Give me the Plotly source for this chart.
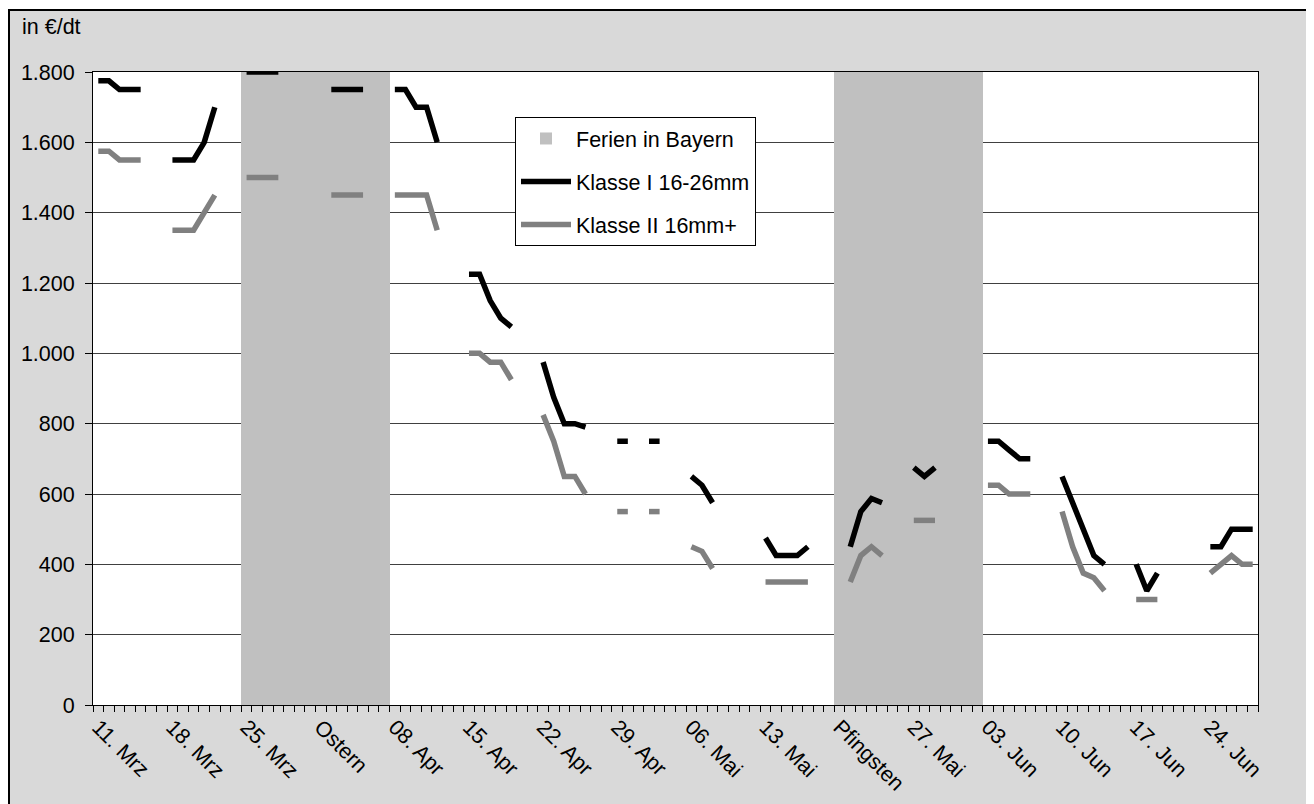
import pandas as pd
import plotly.graph_objects as go

# ---- data -------------------------------------------------------------
start_date = "2013-03-11"
n_days = 110

# Monday-to-Friday prices per week (None = no quotation)
klasse1_weeks = [
    [1775, 1775, 1750, 1750, 1750],
    [1550, 1550, 1550, 1600, 1700],
    [1800, 1800, 1800, 1800, None],
    [None, 1750, 1750, 1750, 1750],
    [1750, 1750, 1700, 1700, 1600],
    [1225, 1225, 1150, 1100, 1075],
    [975, 875, 800, 800, 790],
    [750, 750, None, 750, 750],
    [650, 625, 575, None, None],
    [475, 425, 425, 425, 450],
    [None, 450, 550, 587, 575],
    [675, 650, 675, None, None],
    [750, 750, 725, 700, 700],
    [650, 575, 490, 425, 400],
    [400, 325, 375, None, None],
    [450, 450, 500, 500, 500],
]
klasse2_weeks = [
    [1575, 1575, 1550, 1550, 1550],
    [1350, 1350, 1350, 1400, 1450],
    [1500, 1500, 1500, 1500, None],
    [None, 1450, 1450, 1450, 1450],
    [1450, 1450, 1450, 1450, 1350],
    [1000, 1000, 975, 975, 925],
    [825, 750, 650, 650, 600],
    [550, 550, None, 550, 550],
    [450, 437, 388, None, None],
    [350, 350, 350, 350, 350],
    [None, 350, 425, 450, 425],
    [525, 525, 525, None, None],
    [625, 625, 600, 600, 600],
    [550, 450, 375, 362, 325],
    [300, 300, 300, None, None],
    [375, 400, 425, 400, 400],
]
ferien_ranges = [("2013-03-25", "2013-04-07"), ("2013-05-20", "2013-06-02")]
ferien_height = 1800

tick_labels = ["11. Mrz", "18. Mrz", "25. Mrz", "Ostern", "08. Apr", "15. Apr",
               "22. Apr", "29. Apr", "06. Mai", "13. Mai", "Pfingsten", "27. Mai",
               "03. Jun", "10. Jun", "17. Jun", "24. Jun"]

# ---- build daily series -----------------------------------------------
dates = pd.date_range(start_date, periods=n_days, freq="D")
idx = list(range(n_days))


def daily(weeks):
    out = []
    for i in range(n_days):
        w, d = divmod(i, 7)
        out.append(weeks[w][d] if d < 5 and w < len(weeks) else None)
    return out


k1 = daily(klasse1_weeks)
k2 = daily(klasse2_weeks)
ferien = []
for dt in dates:
    inside = any(pd.Timestamp(a) <= dt <= pd.Timestamp(b) for a, b in ferien_ranges)
    ferien.append(ferien_height if inside else None)

tick_pos = list(range(0, n_days, 7))[:len(tick_labels)]

# ---- figure -----------------------------------------------------------
FONT = "Liberation Sans, Arial, sans-serif"
FS = 21.5
fig = go.Figure()
fig.add_trace(go.Bar(x=idx, y=ferien, width=1, name="Ferien in Bayern",
                     marker=dict(color="#C0C0C0", line=dict(width=0)),
                     legendgroup="a"))
fig.add_trace(go.Scatter(x=idx, y=k1, mode="lines", name="Klasse I 16-26mm",
                         line=dict(color="#000000", width=5.5),
                         connectgaps=False, legendgroup="b"))
fig.add_trace(go.Scatter(x=idx, y=k2, mode="lines", name="Klasse II 16mm+",
                         line=dict(color="#808080", width=5.5),
                         connectgaps=False, legendgroup="c"))

# page offset of the figure (browser body margin)
OFF = 8
L, R, T, B = 85, 56, 64, 99
W, H = 1306, 796
pw, ph = W - L - R, H - T - B


def px(x):  # page x -> paper x
    return (x - OFF - L) / pw


def py(y):  # page y -> paper y
    return (H + OFF - B - y) / ph


fig.update_layout(
    width=W, height=H,
    margin=dict(l=L, r=R, t=T, b=B, autoexpand=False),
    paper_bgcolor="#D9D9D9", plot_bgcolor="#FFFFFF",
    separators=",.",
    font=dict(family=FONT, size=FS, color="#000000"),
    bargap=0,
    showlegend=True,
    legend=dict(x=px(515), y=py(117), xanchor="left", yanchor="top",
                bgcolor="#FFFFFF", bordercolor="#000000", borderwidth=1,
                font=dict(family=FONT, size=FS, color="#000000"),
                traceorder="grouped", tracegroupgap=12, itemwidth=50),
    xaxis=dict(range=[-0.5, n_days - 0.5], tickmode="array", tickvals=tick_pos,
               ticktext=tick_labels, tickangle=45, ticks="", showgrid=False,
               zeroline=False, showline=True, linecolor="#000000", linewidth=1,
               mirror=True, automargin=False,
               tickfont=dict(family=FONT, size=FS, color="#000000"),
               minor=dict(ticks="outside", tick0=-0.5, dtick=1, ticklen=6,
                          tickcolor="#000000", tickwidth=1, showgrid=False)),
    yaxis=dict(range=[0, 1800], dtick=200, tick0=0, tickformat=",.0f",
               showgrid=True, gridcolor="#404040", gridwidth=1,
               zeroline=False, showline=True, linecolor="#000000", linewidth=1,
               mirror=True, ticks="outside", ticklen=7, tickcolor="#000000",
               automargin=False, ticklabelstandoff=6,
               tickfont=dict(family=FONT, size=FS, color="#000000")),
    annotations=[dict(text="in €/dt", xref="paper", yref="paper",
                      x=px(20), y=py(27), xanchor="left", yanchor="middle",
                      showarrow=False,
                      font=dict(family=FONT, size=FS, color="#000000"))],
    shapes=[
        dict(type="rect", xref="paper", yref="paper", x0=px(0), x1=px(1400),
             y0=py(9), y1=py(0), fillcolor="#FFFFFF", line=dict(width=0)),
        dict(type="line", xref="paper", yref="paper", x0=px(9), x1=px(9),
             y0=py(10), y1=py(H + OFF), line=dict(color="#000000", width=2)),
        dict(type="line", xref="paper", yref="paper", x0=px(8), x1=px(1400),
             y0=py(10), y1=py(10), line=dict(color="#000000", width=2)),
    ],
)

fig.write_html("out.html")
